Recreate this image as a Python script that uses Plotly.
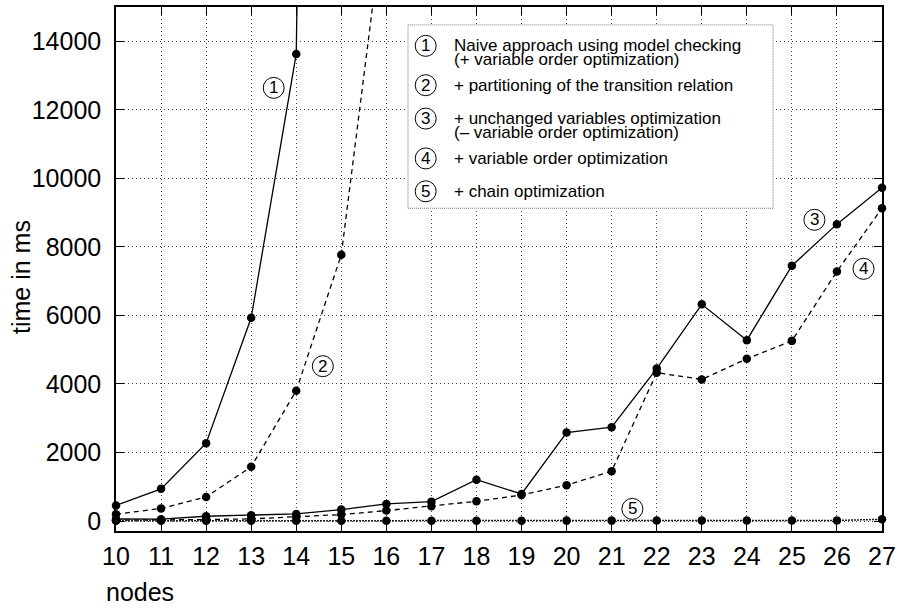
import plotly.graph_objects as go

# ---------------- data ----------------
nodes = list(range(10, 28))
naive_nodes = list(range(10, 16))
naive = [455, 940, 2270, 5930, 13630, 100000]
part_nodes = list(range(10, 17))
partitioning = [198, 370, 703, 1585, 3804, 7769, 18200]
unchanged = [60, 55, 140, 170, 208, 334, 499, 567, 1207, 790, 2581, 2740, 4450, 6324, 5277, 7450, 8664, 9729]
varorder = [25, 28, 45, 63, 121, 189, 305, 431, 577, 760, 1048, 1455, 4330, 4134, 4734, 5258, 7285, 9130]
chain = [8, 8, 9, 9, 10, 10, 11, 11, 12, 12, 13, 13, 14, 15, 16, 17, 20, 50]

legend_numbers = ["1", "2", "3", "4", "5"]
legend_lines = [
    ["Naive approach using model checking", "(+ variable order optimization)"],
    ["+ partitioning of the transition relation"],
    ["+ unchanged variables optimization", "(\u2013 variable order optimization)"],
    ["+ variable order optimization"],
    ["+ chain optimization"],
]
y_ticks = [0, 2000, 4000, 6000, 8000, 10000, 12000, 14000]

FONT = "Liberation Sans, Arial, Helvetica, sans-serif"
W, H = 901, 610
ML, MR, MT, MB = 116, 19, 5, 79
PW, PH = W - ML - MR, H - MT - MB


def px(xp):
    return (xp - ML) / PW


def py(yp):
    return (H - MB - yp) / PH


fig = go.Figure()

solid = dict(color="black", width=1.3)
dashed = dict(color="black", width=1.3, dash="5px,4px")
mk = dict(color="black", size=8.5)

fig.add_trace(go.Scatter(x=naive_nodes, y=naive, mode="lines+markers", line=solid, marker=mk, cliponaxis=False))
fig.add_trace(go.Scatter(x=part_nodes, y=partitioning, mode="lines+markers", line=dashed, marker=mk, cliponaxis=False))
fig.add_trace(go.Scatter(x=nodes, y=varorder, mode="lines+markers", line=dashed, marker=mk, cliponaxis=False))
fig.add_trace(go.Scatter(x=nodes, y=unchanged, mode="lines+markers", line=solid, marker=mk, cliponaxis=False))
fig.add_trace(go.Scatter(x=nodes, y=chain, mode="lines+markers",
                         line=dict(color="#222", width=1.5, dash="2px,1px"), marker=mk, cliponaxis=False))

shapes = []
annotations = []


def circled(label, xa, ya, xref, yref, size=17):
    r = 10.5
    shapes.append(dict(type="circle", xref=xref, yref=yref, xsizemode="pixel", ysizemode="pixel",
                       xanchor=xa, yanchor=ya, x0=-r, x1=r, y0=-r, y1=r,
                       line=dict(color="black", width=1), fillcolor="white", layer="above"))
    annotations.append(dict(text=label, x=xa, y=ya, xref=xref, yref=yref, showarrow=False,
                            xanchor="center", yanchor="middle", font=dict(family=FONT, size=size, color="black")))


# legend box
shapes.append(dict(type="rect", xref="paper", yref="paper", x0=px(408), x1=px(773), y0=py(207), y1=py(23),
                   line=dict(color="#777", width=1, dash="1px,1px"), fillcolor="white", layer="above"))

legend_y = [[44, 58], [83.5], [117, 131], [157], [190]]
for num, lines, ys in zip(legend_numbers, legend_lines, legend_y):
    circled(num, px(425.7), py(ys[0]), "paper", "paper")
    for t, yy in zip(lines, ys):
        annotations.append(dict(text=t, x=px(451.5), y=py(yy), xref="paper", yref="paper", showarrow=False,
                                xanchor="left", yanchor="middle", font=dict(family=FONT, size=17, color="black")))

# in-plot circled labels
circled("1", 13.50, 12640, "x", "y")
circled("2", 14.59, 4520, "x", "y")
circled("3", 25.50, 8790, "x", "y")
circled("4", 26.59, 7360, "x", "y")
circled("5", 21.46, 355, "x", "y")

# axis titles
annotations.append(dict(text="nodes", x=0, y=0, xref="paper", yref="paper", xshift=-12, yshift=-61,
                        showarrow=False, xanchor="left", yanchor="middle",
                        font=dict(family=FONT, size=25, color="black")))
annotations.append(dict(text="time in ms", x=0, y=0.5, xref="paper", yref="paper", xshift=-95, yshift=-8,
                        showarrow=False, xanchor="center", yanchor="middle", textangle=-90,
                        font=dict(family=FONT, size=25, color="black")))

axis_common = dict(showline=True, linecolor="black", linewidth=1.5, mirror="ticks",
                   ticks="inside", ticklen=8, tickcolor="black", tickwidth=1,
                   showgrid=True, gridcolor="#444", gridwidth=1, griddash="1px,3px",
                   zeroline=False, tickfont=dict(family=FONT, size=25, color="black"))

fig.update_xaxes(range=[10, 27], tickmode="array", tickvals=nodes, ticktext=[str(n) for n in nodes],
                 ticklabelstandoff=2, **axis_common)
fig.update_yaxes(range=[-290, 15000], tickmode="array", tickvals=y_ticks, ticktext=[str(v) for v in y_ticks],
                 ticklabelstandoff=8, **axis_common)

fig.update_layout(width=W, height=H, margin=dict(l=ML, r=MR, t=MT, b=MB, pad=0),
                  plot_bgcolor="white", paper_bgcolor="white", showlegend=False,
                  shapes=shapes, annotations=annotations, font=dict(family=FONT))

fig.write_html("out.html", config={"displayModeBar": False},
               post_script="document.body.style.margin='0px';document.body.style.padding='0px';")
